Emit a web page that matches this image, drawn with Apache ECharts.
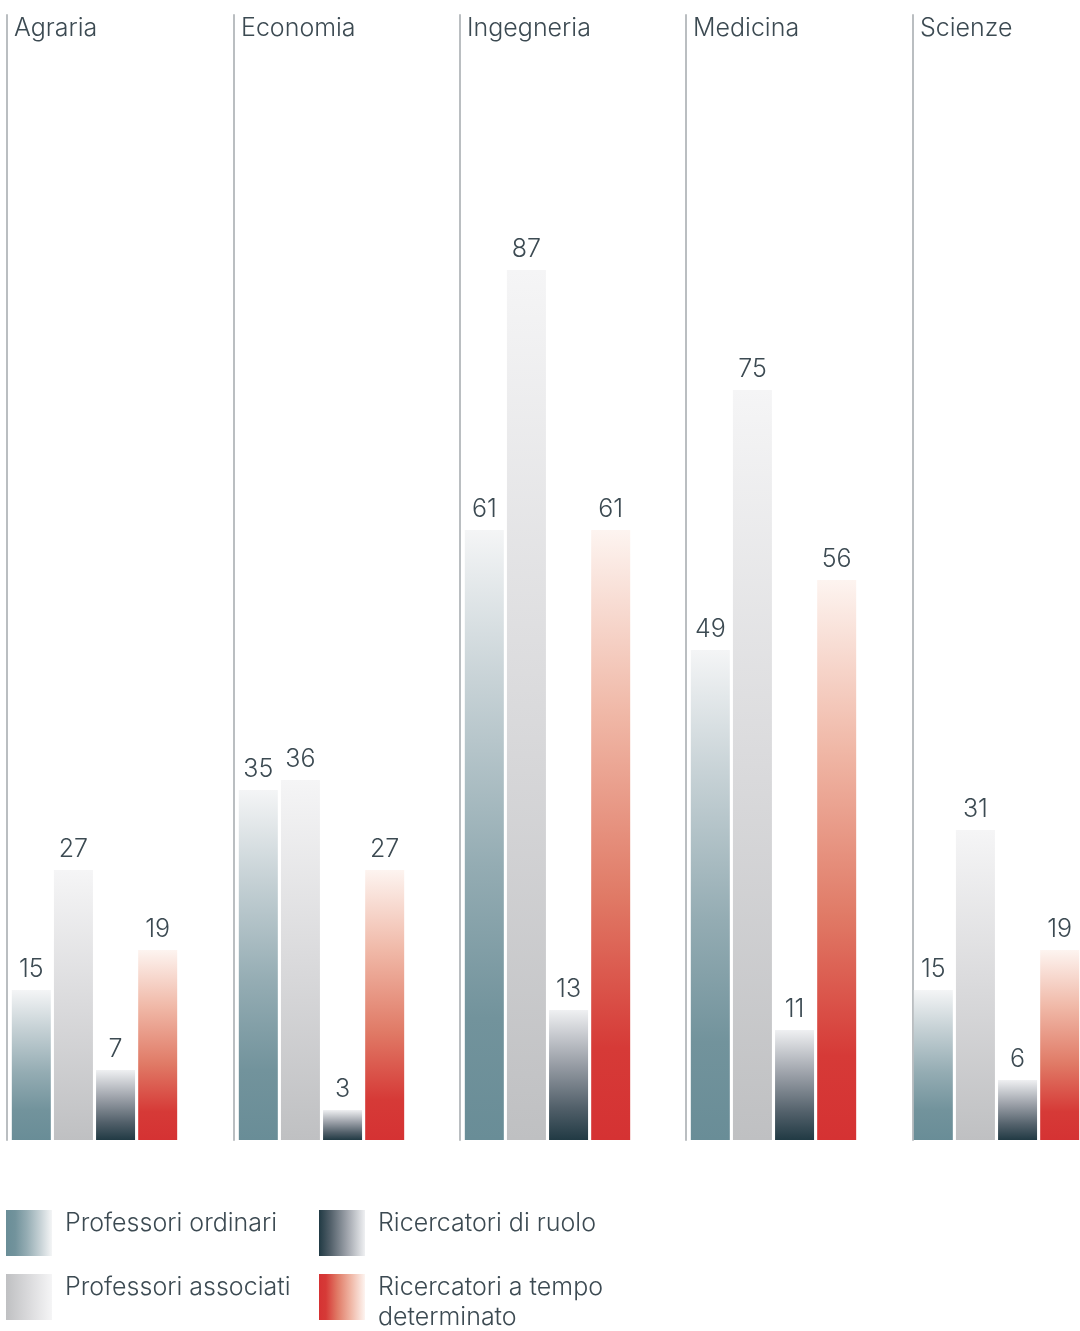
<!DOCTYPE html>
<html>
<head>
<meta charset="utf-8">
<script src="https://cdn.jsdelivr.net/npm/echarts@6/dist/echarts.min.js"></script>
<style>
  html, body { margin: 0; padding: 0; background: #ffffff; }
  #chart { width: 1080px; height: 1331px; }
</style>
</head>
<body>
<div id="chart"></div>
<script>
// ---- data ----
var categories = ['Agraria', 'Economia', 'Ingegneria', 'Medicina', 'Scienze'];
var seriesNames = ['Professori ordinari', 'Professori associati', 'Ricercatori di ruolo', 'Ricercatori a tempo determinato'];
var legendLabels = ['Professori ordinari', 'Professori associati', 'Ricercatori di ruolo', 'Ricercatori a tempo\ndeterminato'];
var professoriOrdinari = [15, 35, 61, 49, 15];
var professoriAssociati = [27, 36, 87, 75, 31];
var ricercatoriRuolo = [7, 3, 13, 11, 6];
var ricercatoriTempoDet = [19, 27, 61, 56, 19];
var values = [professoriOrdinari, professoriAssociati, ricercatoriRuolo, ricercatoriTempoDet];

// ---- styles ----
var FONT = 'Inter';
var TEXT = '#3c4a52';
var FS = 25;
var panelLefts = [7, 234, 460, 686, 913];
var panelWidths = [175, 175, 175, 175, 171];
var gradStops = [
  [[0, '#f4f5f6'], [0.25, '#c7d2d6'], [0.55, '#94acb3'], [0.8, '#72939c'], [1, '#698d97']],
  [[0, '#f5f5f6'], [0.5, '#dadadc'], [1, '#bfc0c2']],
  [[0, '#eff0f2'], [0.4, '#9ca1a9'], [0.75, '#52606a'], [1, '#213a44']],
  [[0, '#fdf4f0'], [0.3, '#f0b8a7'], [0.6, '#e07a66'], [0.85, '#d63a37'], [1, '#d53233']]
];
function vGrad(stops) {
  return new echarts.graphic.LinearGradient(0, 0, 0, 1, stops.map(function (s) { return { offset: s[0], color: s[1] }; }));
}
function hGrad(stops) {
  return new echarts.graphic.LinearGradient(0, 0, 1, 0, stops.map(function (s) { return { offset: 1 - s[0], color: s[1] }; }));
}

var chart = echarts.init(document.getElementById('chart'), null, { renderer: 'canvas' });

var grids = [], xAxes = [], yAxes = [], series = [], titles = [];
categories.forEach(function (cat, i) {
  grids.push({ left: panelLefts[i], width: panelWidths[i], top: 15, bottom: 191 });
  xAxes.push({
    type: 'category', gridIndex: i, data: [cat],
    axisLine: { show: false }, axisTick: { show: false }, axisLabel: { show: false }
  });
  yAxes.push({
    type: 'value', gridIndex: i, min: 0, max: 112.5,
    axisLine: { show: true, lineStyle: { color: '#babec1', width: 2 } },
    axisTick: { show: false }, axisLabel: { show: false }, splitLine: { show: false }
  });
  titles.push({
    text: cat, left: panelLefts[i] + 2, top: 11,
    textStyle: { fontFamily: FONT, fontWeight: 300, fontSize: FS, color: TEXT }
  });
  seriesNames.forEach(function (name, k) {
    series.push({
      name: name, type: 'bar', xAxisIndex: i, yAxisIndex: i,
      data: [values[k][i]],
      barWidth: 39, barGap: '8%',
      itemStyle: { color: vGrad(gradStops[k]) },
      label: {
        show: true, position: 'top', distance: 8,
        fontFamily: FONT, fontWeight: 300, fontSize: FS, color: TEXT
      },
      emphasis: { disabled: true },
      animation: false
    });
  });
});

// legend drawn as graphic (2 columns x 2 rows)
var legendPos = [[6, 1210], [6, 1274], [319, 1210], [319, 1274]];
var graphics = [];
seriesNames.forEach(function (name, k) {
  var p = legendPos[k];
  graphics.push({
    type: 'rect', left: p[0], top: p[1], silent: true,
    shape: { width: 46, height: 46 },
    style: { fill: hGrad(gradStops[k]) }
  });
  graphics.push({
    type: 'text', left: p[0] + 59, top: p[1] - 2, silent: true,
    style: {
      text: legendLabels[k], fill: TEXT,
      font: '300 ' + FS + 'px ' + FONT, lineHeight: 30
    }
  });
});

chart.setOption({
  backgroundColor: '#ffffff',
  animation: false,
  title: titles,
  grid: grids,
  xAxis: xAxes,
  yAxis: yAxes,
  graphic: graphics,
  series: series
});
</script>
</body>
</html>
